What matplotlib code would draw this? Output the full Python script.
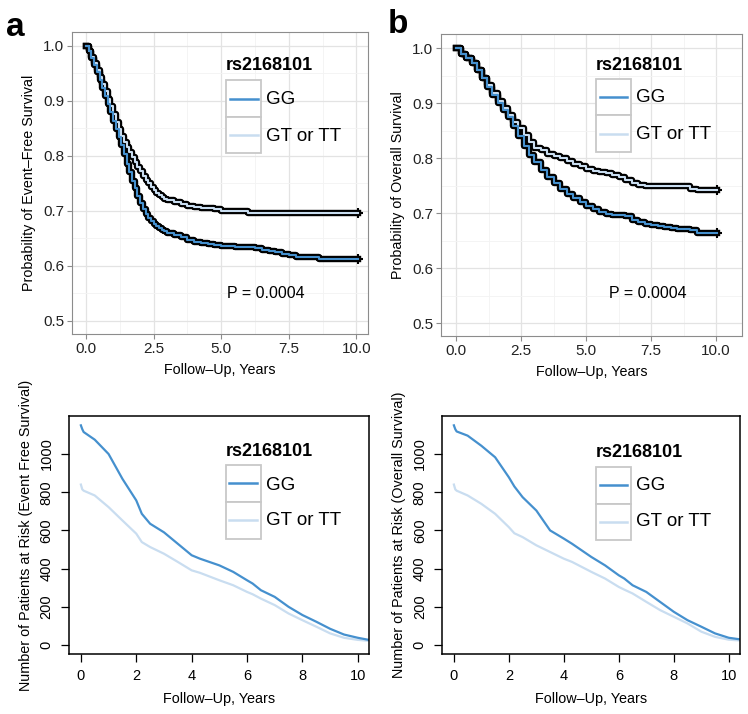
import matplotlib
matplotlib.use("Agg")
import matplotlib.pyplot as plt
from matplotlib.patches import Rectangle
from matplotlib.ticker import MultipleLocator, FormatStrFormatter

plt.rcParams['font.family'] = ['Liberation Sans', 'DejaVu Sans']

GG_COLOR = '#4590CE'
GT_COLOR = '#C9DDF0'
labels = ["GG", "GT or TT"]
legend_title = "rs2168101"
p_text = "P = 0.0004"

# Event-free survival (Kaplan-Meier, step curves)
efs_t = [0, 0.1, 0.2, 0.3, 0.4, 0.5, 0.6, 0.7, 0.8, 0.9, 1.0, 1.1, 1.2, 1.3, 1.4,
         1.5, 1.6, 1.7, 1.8, 1.9, 2.0, 2.1, 2.2, 2.3, 2.4, 2.5, 2.6, 2.7, 2.8, 2.9,
         3.0, 3.25, 3.5, 3.75, 4.0, 4.25, 4.5, 4.75, 5.0, 5.5, 6.0, 6.25, 6.5, 6.75,
         7.0, 7.25, 7.5, 7.75, 8.0, 8.3, 8.6, 10.05]
efs_gg = [1.0, 0.99, 0.978, 0.966, 0.952, 0.938, 0.924, 0.909, 0.894, 0.879, 0.864,
          0.849, 0.834, 0.819, 0.803, 0.786, 0.77, 0.755, 0.741, 0.727, 0.714, 0.703,
          0.694, 0.687, 0.681, 0.676, 0.672, 0.669, 0.666, 0.663, 0.660,
          0.657, 0.652, 0.647, 0.643, 0.641, 0.640, 0.638, 0.636, 0.635, 0.634,
          0.632, 0.629, 0.627, 0.625, 0.622, 0.619, 0.617, 0.617, 0.616, 0.612, 0.612]
efs_gt = [1.0, 0.99, 0.98, 0.969, 0.957, 0.944, 0.931, 0.918, 0.904, 0.89, 0.876,
          0.862, 0.849, 0.837, 0.826, 0.816, 0.807, 0.798, 0.789, 0.78, 0.772, 0.764,
          0.757, 0.75, 0.744, 0.738, 0.733, 0.729, 0.725, 0.722, 0.72,
          0.716, 0.712, 0.709, 0.707, 0.706, 0.706, 0.703, 0.70, 0.70, 0.697,
          0.697, 0.697, 0.697, 0.697, 0.697, 0.697, 0.697, 0.697, 0.697, 0.697, 0.697]

# Overall survival
os_t = [0, 0.2, 0.4, 0.6, 0.8, 1.0, 1.2, 1.4, 1.6, 1.8, 2.0, 2.2, 2.4, 2.6, 2.8, 3.0,
        3.25, 3.5, 3.75, 4.0, 4.25, 4.5, 4.75, 5.0, 5.25, 5.5, 5.75, 6.0, 6.25, 6.5,
        6.75, 7.0, 7.25, 7.5, 7.75, 8.0, 8.25, 8.5, 8.75, 9.0, 9.25, 10.05]
os_gg = [1.0, 0.99, 0.982, 0.972, 0.96, 0.945, 0.93, 0.915, 0.9, 0.887, 0.874, 0.858,
         0.84, 0.822, 0.806, 0.792, 0.778, 0.766, 0.754, 0.743, 0.735, 0.727, 0.72,
         0.713, 0.707, 0.702, 0.698, 0.697, 0.696, 0.695, 0.688, 0.683, 0.68, 0.678,
         0.676, 0.674, 0.672, 0.671, 0.671, 0.670, 0.664, 0.664]
os_gt = [1.0, 0.99, 0.982, 0.972, 0.96, 0.946, 0.932, 0.918, 0.904, 0.891, 0.878, 0.866,
         0.854, 0.842, 0.83, 0.818, 0.814, 0.808, 0.803, 0.800, 0.795, 0.79, 0.785,
         0.78, 0.777, 0.775, 0.772, 0.77, 0.765, 0.76, 0.755, 0.751, 0.75, 0.75, 0.75,
         0.75, 0.75, 0.75, 0.75, 0.743, 0.742, 0.742]

# Number at risk
risk_t = [0, 0.05, 0.1, 0.5, 1.0, 1.5, 2.0, 2.2, 2.5, 3.0, 3.5, 4.0, 4.3, 5.0,
          5.5, 6.0, 6.2, 6.5, 7.0, 7.5, 8.0, 8.5, 9.0, 9.5, 10.0, 10.4]
risk_efs_gg = [1150, 1130, 1115, 1075, 1000, 870, 757, 687, 635, 590, 530, 470,
               452, 417, 383, 339, 322, 287, 252, 200, 157, 122, 85, 55, 38, 27]
risk_efs_gt = [840, 815, 808, 783, 722, 652, 583, 539, 513, 478, 435, 391, 378,
               339, 313, 278, 266, 243, 209, 165, 130, 96, 61, 38, 27, 22]
risk_os_gg = [1150, 1130, 1118, 1096, 1043, 983, 878, 830, 774, 704, 600, 557,
              530, 461, 417, 365, 348, 313, 278, 226, 174, 130, 96, 61, 38, 30]
risk_os_gt = [840, 815, 808, 783, 739, 687, 617, 585, 565, 522, 487, 452, 435,
              383, 348, 304, 290, 270, 226, 183, 148, 113, 70, 43, 28, 24]

fig = plt.figure(figsize=(7.48, 7.14), dpi=100)


def km_panel(ax, t, gg, gt, ylabel, xlim):
    for y, c in [(gt, GT_COLOR), (gg, GG_COLOR)]:
        ax.step(t, y, where='post', color='black', lw=4.6, zorder=3)
        ax.plot([t[-1]], [y[-1]], marker='+', color='black', ms=7, mew=1.5, zorder=3)
        ax.step(t, y, where='post', color=c, lw=1.5, zorder=4)
    ax.set_xlim(*xlim)
    ax.set_ylim(0.476, 1.025)
    ax.xaxis.set_major_locator(MultipleLocator(2.5))
    ax.xaxis.set_minor_locator(MultipleLocator(1.25))
    ax.yaxis.set_major_locator(MultipleLocator(0.1))
    ax.yaxis.set_minor_locator(MultipleLocator(0.05))
    ax.xaxis.set_major_formatter(FormatStrFormatter('%.1f'))
    ax.yaxis.set_major_formatter(FormatStrFormatter('%.1f'))
    ax.grid(which='major', color='#E3E3E3', lw=0.9, zorder=0)
    ax.grid(which='minor', color='#F3F3F3', lw=0.6, zorder=0)
    ax.set_axisbelow(True)
    for s in ax.spines.values():
        s.set_color('#8C8C8C')
    ax.tick_params(which='major', color='#8C8C8C', length=3.5, labelsize=11,
                   labelcolor='#222222', pad=2)
    ax.tick_params(which='minor', length=0)
    ax.set_xlabel("Follow\u2013Up, Years", fontsize=10.3, labelpad=5)
    ax.set_ylabel(ylabel, fontsize=10.3, labelpad=5)


def risk_panel(ax, t, gg, gt, ylabel):
    ax.plot(t, gt, color=GT_COLOR, lw=1.6)
    ax.plot(t, gg, color=GG_COLOR, lw=1.6)
    ax.set_xlim(-0.43, 10.4)
    ax.set_ylim(-47, 1199)
    ax.set_xticks([0, 2, 4, 6, 8, 10])
    ax.set_yticks([0, 200, 400, 600, 800, 1000])
    for lab in ax.get_yticklabels():
        lab.set_rotation(90)
        lab.set_va('center')
    for s in ax.spines.values():
        s.set_color('black')
        s.set_linewidth(1.1)
    ax.tick_params(length=6, labelsize=10.5, width=0.9, pad=5)
    ax.set_xlabel("Follow\u2013Up, Years", fontsize=10.4, labelpad=6)
    ax.set_ylabel(ylabel, fontsize=10.4, labelpad=5)


def legend_boxes(ax, x0, x1, ys, ytitle, xtext, ytexts):
    ax.text(x0, ytitle, legend_title, transform=ax.transAxes, fontsize=13,
            fontweight='bold', va='center', ha='left', zorder=6)
    for i, (lab, c) in enumerate(zip(labels, [GG_COLOR, GT_COLOR])):
        top, bot = ys[i], ys[i + 1]
        ax.add_patch(Rectangle((x0, bot), x1 - x0, top - bot, transform=ax.transAxes,
                               facecolor='white', edgecolor='#C8C8C8', lw=1.3, zorder=5))
        ym = (top + bot) / 2
        ax.plot([x0 + 0.012, x1 - 0.012], [ym, ym], transform=ax.transAxes,
                color=c, lw=1.8, zorder=6)
        ax.text(xtext, ytexts[i], lab, transform=ax.transAxes, fontsize=13.5,
                va='center', ha='left', zorder=6)


ax1 = fig.add_axes([0.0963, 0.532, 0.396, 0.423])
km_panel(ax1, efs_t, efs_gg, efs_gt, "Probability of Event\u2013Free Survival", (-0.52, 10.44))
legend_boxes(ax1, 0.52, 0.639, [0.841, 0.719, 0.599], 0.89, 0.655, [0.778, 0.656])
ax1.text(0.524, 0.136, p_text, transform=ax1.transAxes, fontsize=11.5, va='center')

ax2 = fig.add_axes([0.5896, 0.529, 0.4024, 0.423])
km_panel(ax2, os_t, os_gg, os_gt, "Probability of Overall Survival", (-0.58, 11.0))
legend_boxes(ax2, 0.515, 0.631, [0.851, 0.732, 0.609], 0.897, 0.648, [0.791, 0.669])
ax2.text(0.558, 0.142, p_text, transform=ax2.transAxes, fontsize=11.5, va='center')

ax3 = fig.add_axes([0.0922, 0.084, 0.401, 0.3334])
risk_panel(ax3, risk_t, risk_efs_gg, risk_efs_gt, "Number of Patients at Risk (Event Free Survival)")
legend_boxes(ax3, 0.523, 0.64, [0.794, 0.639, 0.483], 0.849, 0.657, [0.71, 0.559])

ax4 = fig.add_axes([0.591, 0.084, 0.398, 0.3334])
risk_panel(ax4, risk_t, risk_os_gg, risk_os_gt, "Number of Patients at Risk (Overall Survival)")
legend_boxes(ax4, 0.517, 0.634, [0.786, 0.63, 0.479], 0.845, 0.651, [0.706, 0.555])

fig.text(0.008, 0.962, "a", fontsize=24, fontweight='bold', va='center')
fig.text(0.518, 0.966, "b", fontsize=24, fontweight='bold', va='center')

fig.savefig("out.png", dpi=100)
